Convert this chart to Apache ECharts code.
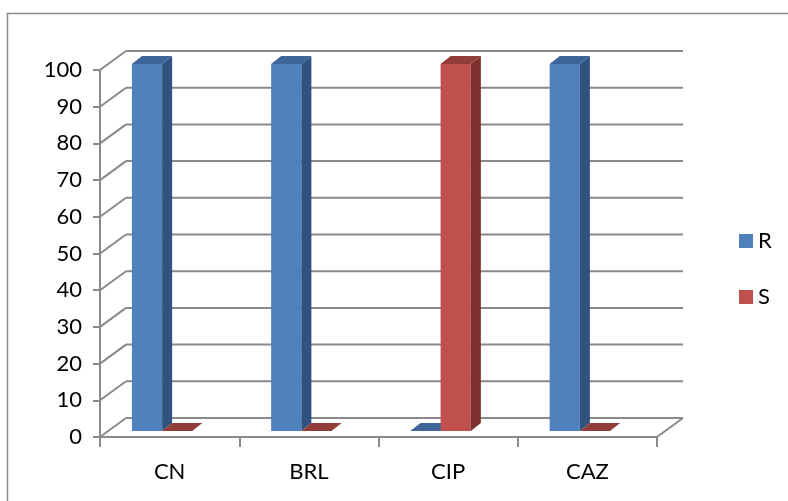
<!DOCTYPE html>
<html>
<head>
<meta charset="utf-8">
<script src="https://cdn.jsdelivr.net/npm/echarts@6/dist/echarts.min.js"></script>
<style>
  html, body { margin: 0; padding: 0; background: #ffffff; }
  #chart { width: 788px; height: 501px; }
</style>
</head>
<body>
<div id="chart"></div>
<script>
// Categories and series values
const categories = ['CN', 'BRL', 'CIP', 'CAZ'];
const seriesR = [100, 100, 0, 100];
const seriesS = [0, 0, 100, 0];
const yTicks = [0, 10, 20, 30, 40, 50, 60, 70, 80, 90, 100];

// Oblique projection of the chart box (depth shift of the back wall)
const DEPTH_X = 26;
const DEPTH_Y = -19;
const GRID_COLOR = '#8a8a8a';
const FONT = 'Lato, "Open Sans", sans-serif';

const palette = {
  R: { front: '#4f81bd', side: '#30527e', top: '#3d6598' },
  S: { front: '#c0504d', side: '#7f302e', top: '#933d3a' }
};

// Back wall gridlines, left wall diagonals and the floor outline
function renderWalls(params, api) {
  const cs = params.coordSys;
  const v = api.value(0);
  const p = api.coord([0, v]);
  const y = p[1];
  const x0 = cs.x;
  const x1 = cs.x + cs.width;
  const children = [
    { type: 'line', shape: { x1: x0, y1: y, x2: x0 + DEPTH_X, y2: y + DEPTH_Y },
      style: { stroke: GRID_COLOR, lineWidth: 2 } },
    { type: 'line', shape: { x1: x0 + DEPTH_X, y1: y + DEPTH_Y, x2: x1 + DEPTH_X, y2: y + DEPTH_Y },
      style: { stroke: GRID_COLOR, lineWidth: 2 } }
  ];
  if (v === 0) {
    children.push({ type: 'line', shape: { x1: x1, y1: y, x2: x1 + DEPTH_X, y2: y + DEPTH_Y },
      style: { stroke: GRID_COLOR, lineWidth: 2 } });
  }
  return { type: 'group', children: children };
}

// 3D column: front face, side face and top face
function makeBarRenderer(key, slot) {
  const col = palette[key];
  return function (params, api) {
    const idx = api.value(0);
    const val = api.value(1);
    const band = api.size([1, 0])[0];
    const base = api.coord([idx, 0]);
    const tip = api.coord([idx, val]);
    const bw = band * 0.217;
    const sx = band * 0.072;   // column depth, horizontal
    const sy = -band * 0.057;  // column depth, vertical
    const lift = -6;           // columns stand mid-depth on the floor
    const center = base[0] - band * 0.054;
    const xl = slot === 0 ? center - bw : center;
    const xr = xl + bw;
    const yb = base[1] + lift;
    const yt = tip[1] + lift;
    const children = [];
    if (yb - yt > 0.5) {
      children.push({ type: 'rect', shape: { x: xl, y: yt, width: bw, height: yb - yt },
        style: { fill: col.front } });
      children.push({ type: 'polygon', shape: { points: [[xr, yt], [xr + sx, yt + sy], [xr + sx, yb + sy], [xr, yb]] },
        style: { fill: col.side } });
    }
    children.push({ type: 'polygon', shape: { points: [[xl, yt], [xl + sx, yt + sy], [xr + sx, yt + sy], [xr, yt]] },
      style: { fill: col.top } });
    return { type: 'group', children: children };
  };
}

const chart = echarts.init(document.getElementById('chart'), null, { renderer: 'canvas' });

chart.setOption({
  animation: false,
  backgroundColor: '#ffffff',
  textStyle: { fontFamily: FONT },
  graphic: [{
    type: 'rect',
    shape: { x: 7.5, y: 13.5, width: 800, height: 520 },
    style: { fill: 'none', stroke: '#8c8c8c', lineWidth: 1.5 },
    silent: true
  }],
  legend: {
    orient: 'vertical',
    left: 739,
    top: 230,
    padding: 0,
    itemWidth: 14,
    itemHeight: 14,
    itemGap: 34,
    icon: 'rect',
    textStyle: { fontSize: 22, color: '#000', fontFamily: FONT },
    data: ['R', 'S']
  },
  grid: { left: 100, right: 131, top: 70, bottom: 64 },
  xAxis: {
    type: 'category',
    data: categories,
    boundaryGap: true,
    axisLine: { show: true, lineStyle: { color: GRID_COLOR, width: 2 } },
    axisTick: { show: true, length: 10, lineStyle: { color: GRID_COLOR, width: 2 } },
    axisLabel: { fontSize: 22, color: '#000', margin: 24, fontFamily: FONT },
    splitLine: { show: false }
  },
  yAxis: {
    type: 'value',
    min: 0,
    max: 100,
    interval: 10,
    axisLine: { show: true, lineStyle: { color: GRID_COLOR, width: 2 } },
    axisTick: { show: true, length: 7, lineStyle: { color: GRID_COLOR, width: 2 } },
    axisLabel: { fontSize: 22, color: '#000', margin: 18, fontFamily: FONT },
    splitLine: { show: false }
  },
  series: [
    {
      name: 'walls',
      type: 'custom',
      renderItem: renderWalls,
      data: yTicks.map(v => [v]),
      encode: { y: 0 },
      silent: true,
      z: 1
    },
    {
      name: 'R',
      type: 'custom',
      renderItem: makeBarRenderer('R', 0),
      itemStyle: { color: palette.R.front },
      data: seriesR.map((v, i) => [i, v]),
      encode: { x: 0, y: 1 },
      z: 3
    },
    {
      name: 'S',
      type: 'custom',
      renderItem: makeBarRenderer('S', 1),
      itemStyle: { color: palette.S.front },
      data: seriesS.map((v, i) => [i, v]),
      encode: { x: 0, y: 1 },
      z: 3
    }
  ]
});
</script>
</body>
</html>
